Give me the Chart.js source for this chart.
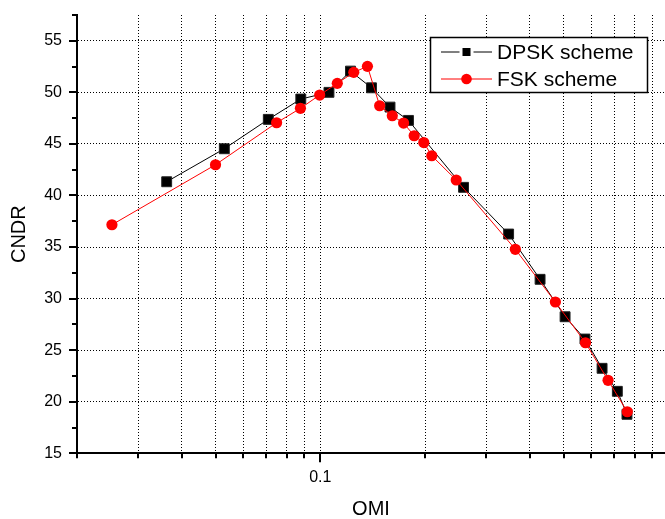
<!DOCTYPE html>
<html>
<head>
<meta charset="utf-8">
<script src="https://cdn.jsdelivr.net/npm/chart.js@4/dist/chart.umd.min.js"></script>
<style>
  html, body { margin: 0; padding: 0; background: #fff; overflow: hidden; }
  #wrap { width: 665px; height: 519px; }
</style>
</head>
<body>
<div id="wrap"><canvas id="c" width="665" height="519"></canvas></div>
<script>
// OMI (log scale) vs CNDR for the two modulation schemes
const omiDPSK  = [0.0362, 0.0530, 0.0709, 0.0879, 0.1059, 0.1221, 0.1403, 0.1586, 0.1792,
                  0.258, 0.3476, 0.428, 0.505, 0.576, 0.645, 0.7135, 0.7605];
const cndrDPSK = [41.33, 44.53, 47.38, 49.35, 50.0, 52.06, 50.44, 48.57, 47.28,
                  40.79, 36.26, 31.87, 28.24, 26.08, 23.24, 21.01, 18.78];

const omiFSK  = [0.0252, 0.0500, 0.0749, 0.0877, 0.0996, 0.1119, 0.1248, 0.1366, 0.1481, 0.161,
                 0.1735, 0.1861, 0.1983, 0.2091, 0.2458, 0.3634, 0.4736, 0.578, 0.671, 0.762];
const cndrFSK = [37.16, 42.98, 47.05, 48.45, 49.74, 50.87, 51.94, 52.52, 48.7, 47.73,
                 47.02, 45.79, 45.13, 43.85, 41.5, 34.78, 29.67, 25.72, 22.08, 19.03];

const seriesNames = ['DPSK scheme', 'FSK scheme'];

// Axis ticks
const xTicks = [0.02, 0.03, 0.04, 0.05, 0.06, 0.07, 0.08, 0.09, 0.1,
                0.2, 0.3, 0.4, 0.5, 0.6, 0.7, 0.8, 0.9];
const xLabeled = [0.1];
const yMajor = [15, 20, 25, 30, 35, 40, 45, 50, 55];
const yMinor = [17.5, 22.5, 27.5, 32.5, 37.5, 42.5, 47.5, 52.5, 57.5];

const FONT = '"Liberation Sans", Arial, Helvetica, sans-serif';

const toPoints = (xs, ys) => xs.map((x, i) => ({ x: x, y: ys[i] }));

// Outward tick marks on the left and bottom axes
const tickMarks = {
  id: 'tickMarks',
  afterDraw(chart) {
    const { ctx, scales: { x, y }, chartArea } = chart;
    ctx.save();
    ctx.strokeStyle = '#000';
    ctx.lineWidth = 2;
    ctx.beginPath();
    xTicks.forEach(v => {
      const px = Math.round(x.getPixelForValue(v));
      const len = xLabeled.includes(v) ? 9 : 5;
      ctx.moveTo(px, chartArea.bottom);
      ctx.lineTo(px, chartArea.bottom + len);
    });
    yMajor.forEach(v => {
      const py = Math.round(y.getPixelForValue(v));
      ctx.moveTo(chartArea.left, py);
      ctx.lineTo(chartArea.left - 8, py);
    });
    yMinor.forEach(v => {
      const py = Math.round(y.getPixelForValue(v));
      ctx.moveTo(chartArea.left, py);
      ctx.lineTo(chartArea.left - 5, py);
    });
    ctx.stroke();
    ctx.restore();
  }
};

// Boxed legend in the upper right corner
const boxLegend = {
  id: 'boxLegend',
  afterDraw(chart) {
    const { ctx } = chart;
    const bx = 430, by = 37, bw = 217, bh = 55;
    ctx.save();
    ctx.fillStyle = '#fff';
    ctx.fillRect(bx, by, bw, bh);
    ctx.strokeStyle = '#000';
    ctx.lineWidth = 1.5;
    ctx.strokeRect(bx + 0.5, by + 0.5, bw, bh);

    const rows = [by + 15, by + 42];
    const x0 = 441, x1 = 492, xm = 466.5;
    // DPSK row
    ctx.strokeStyle = '#000';
    ctx.lineWidth = 1;
    ctx.beginPath();
    ctx.moveTo(x0, rows[0]); ctx.lineTo(xm - 7, rows[0]);
    ctx.moveTo(xm + 7, rows[0]); ctx.lineTo(x1, rows[0]);
    ctx.stroke();
    ctx.fillStyle = '#000';
    ctx.fillRect(xm - 4, rows[0] - 4, 8, 8);
    // FSK row
    ctx.strokeStyle = '#ff0000';
    ctx.beginPath();
    ctx.moveTo(x0, rows[1]); ctx.lineTo(x1, rows[1]);
    ctx.stroke();
    ctx.fillStyle = '#ff0000';
    ctx.beginPath();
    ctx.arc(xm, rows[1], 5.3, 0, Math.PI * 2);
    ctx.fill();

    ctx.fillStyle = '#000';
    ctx.font = '21px ' + FONT;
    ctx.textBaseline = 'middle';
    ctx.textAlign = 'left';
    ctx.fillText(seriesNames[0], 497, rows[0] + 1);
    ctx.fillText(seriesNames[1], 497, rows[1] + 1);
    ctx.restore();
  }
};

new Chart(document.getElementById('c'), {
  type: 'scatter',
  data: {
    datasets: [
      {
        label: seriesNames[0],
        data: toPoints(omiDPSK, cndrDPSK),
        showLine: true,
        borderColor: '#000',
        backgroundColor: '#000',
        borderWidth: 1,
        pointStyle: 'rect',
        pointRadius: 7,
        pointBorderWidth: 1,
        pointBorderColor: '#222',
        pointBackgroundColor: '#000',
        order: 1
      },
      {
        label: seriesNames[1],
        data: toPoints(omiFSK, cndrFSK),
        showLine: true,
        borderColor: '#ff0000',
        backgroundColor: '#ff0000',
        borderWidth: 1,
        pointStyle: 'circle',
        pointRadius: 5.6,
        pointBorderWidth: 0,
        pointBackgroundColor: '#ff0000',
        order: 0
      }
    ]
  },
  options: {
    responsive: false,
    animation: false,
    devicePixelRatio: 1,
    layout: { autoPadding: false, padding: { left: 0, right: 0, top: 15, bottom: 0 } },
    plugins: {
      legend: { display: false },
      tooltip: { enabled: false }
    },
    scales: {
      x: {
        type: 'logarithmic',
        min: 0.02,
        max: 0.978,
        afterBuildTicks(scale) {
          scale.ticks = xTicks.map(v => ({ value: v }));
        },
        afterFit(scale) {
          scale.height = 65.7;
          scale.paddingLeft = 0;
          scale.paddingRight = 0;
        },
        ticks: {
          autoSkip: false,
          maxRotation: 0,
          padding: 15,
          color: '#000',
          font: { family: FONT, size: 16 },
          callback: v => (xLabeled.includes(v) ? String(v) : '')
        },
        grid: {
          drawTicks: false,
          color: '#000',
          lineWidth: 1
        },
        border: { display: true, color: '#000', width: 2, dash: [1, 2] },
        title: {
          display: true,
          text: 'OMI',
          color: '#000',
          font: { family: FONT, size: 20, lineHeight: 1 },
          padding: { top: 0, bottom: 0 }
        }
      },
      y: {
        type: 'linear',
        min: 15,
        max: 57.5,
        afterBuildTicks(scale) {
          scale.ticks = yMajor.map(v => ({ value: v }));
        },
        afterFit(scale) {
          scale.width = 77;
          scale.paddingTop = 0;
          scale.paddingBottom = 0;
        },
        ticks: {
          autoSkip: false,
          padding: 15,
          color: '#000',
          font: { family: FONT, size: 16 }
        },
        grid: {
          drawTicks: false,
          color: '#000',
          lineWidth: 1
        },
        border: { display: true, color: '#000', width: 2, dash: [1, 2] },
        title: {
          display: true,
          text: 'CNDR',
          color: '#000',
          font: { family: FONT, size: 20, lineHeight: 1 },
          padding: { top: 9, bottom: 0 }
        }
      }
    }
  },
  plugins: [tickMarks, boxLegend]
});
</script>
</body>
</html>
